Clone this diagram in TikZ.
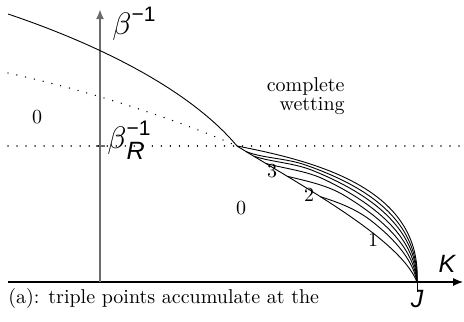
\documentclass[tikz,border=0pt]{standalone}
\usepackage{fontspec}
\usepackage{graphicx}
\newfontfamily\hv{Liberation Sans}
\usetikzlibrary{arrows.meta}
\newcommand{\bigbeta}{\scalebox{1.55}{$\beta$}}
\begin{document}
\begin{tikzpicture}[x=0.5pt,y=-0.5pt,
  curve/.style={line width=0.45pt},
  dotline/.style={line width=0.75pt, dash pattern=on 0.01pt off 4.5pt, line cap=round},
  lbl/.style={inner sep=0, font=\fontsize{10}{12}\selectfont},
  sanslbl/.style={inner sep=0, font=\hv\itshape\fontsize{12.5}{14}\selectfont},
  declare function={
    bx(\x)=(1-\x)^3*237+3*(1-\x)^2*\x*295+3*(1-\x)*\x^2*400+\x^3*417;
    by(\x)=(1-\x)^3*146+3*(1-\x)^2*\x*182+3*(1-\x)*\x^2*238+\x^3*282;
    tx(\x)=(1-\x)^3*237+3*(1-\x)^2*\x*320+3*(1-\x)*\x^2*422+\x^3*417;
    ty(\x)=(1-\x)^3*146+3*(1-\x)^2*\x*162+3*(1-\x)*\x^2*190+\x^3*282;
    wf(\x,\a,\w)=\w*(1-(1-min(1,(\x-\a)/0.22))^2);
  }]
\useasboundingbox (0,0) rectangle (464,321);
% key points
\coordinate (P) at (237,146);
\coordinate (J) at (417,282);
\coordinate (vb) at (100,282);
\coordinate (vt) at (100,9);
\coordinate (hl) at (8,282);
\coordinate (hr) at (463,282);
\coordinate (dl) at (8,146);
\coordinate (dr) at (464,146);
\coordinate (ul) at (8,14);
\coordinate (ol) at (8,73);
\coordinate (tk1) at (96,146);
\coordinate (tk2) at (105,146);
\coordinate (jt) at (417,292);
% axes
\draw[line width=0.55pt, -{Latex[length=5pt,width=4pt]}] (hl) -- (hr);
\draw[gray!85!black, line width=1pt, -{Latex[length=5pt,width=4pt]}] (vb) -- (vt);
\draw[gray!85!black, line width=0.6pt] (tk1) -- (tk2);
\draw[line width=0.5pt] (J) -- (jt);
% dotted lines
\draw[dotline] (dl) -- (dr);
\draw[dotline] (ol) .. controls (100,93) and (190,125) .. (P);
% upper solid curve
\draw[curve] (ul) .. controls (100,45) and (190,90) .. (P);
% layering curves
\draw[curve] (P) .. controls (295,182) and (400,238) .. (J);
\draw[curve] (P) .. controls (320,162) and (422,190) .. (J);
\foreach \a/\w in {0.40/0.28, 0.25/0.46, 0.15/0.62, 0.09/0.76, 0.05/0.88}{
  \draw[curve] plot[domain=\a:1, samples=60, variable=\x]
    ({bx(\x)+wf(\x,\a,\w)*(tx(\x)-bx(\x))}, {by(\x)+wf(\x,\a,\w)*(ty(\x)-by(\x))});
}
% labels
\node[inner sep=0, anchor=base west] (binv) at (112,34)
  {\bigbeta\raisebox{6.5pt}{\hv\fontsize{10.5}{11}\selectfont −1}};
\node[inner sep=0, anchor=base west] (bR) at (107,148)
  {\bigbeta\rlap{\raisebox{6.5pt}{\hv\fontsize{10.5}{11}\selectfont −1}}\raisebox{-5.5pt}{\hv\itshape\fontsize{12.5}{13}\selectfont R}};
\node[lbl] (z1) at (37,117) {0};
\node[lbl] (z2) at (241,208) {0};
\node[lbl] (n3) at (272,171) {3};
\node[lbl] (n2) at (309,195) {2};
\node[lbl] (n1) at (373,240) {1};
\node[lbl, anchor=base east] (cw1) at (345,91) {complete};
\node[lbl, anchor=base east] (cw2) at (345,110) {wetting};
\node[sanslbl] (K) at (447,264) {K};
\node[sanslbl] (Jl) at (417,299) {J};
\node[lbl, anchor=base west] (cap) at (8,303) {(a): triple points accumulate at the};
\end{tikzpicture}
\end{document}
